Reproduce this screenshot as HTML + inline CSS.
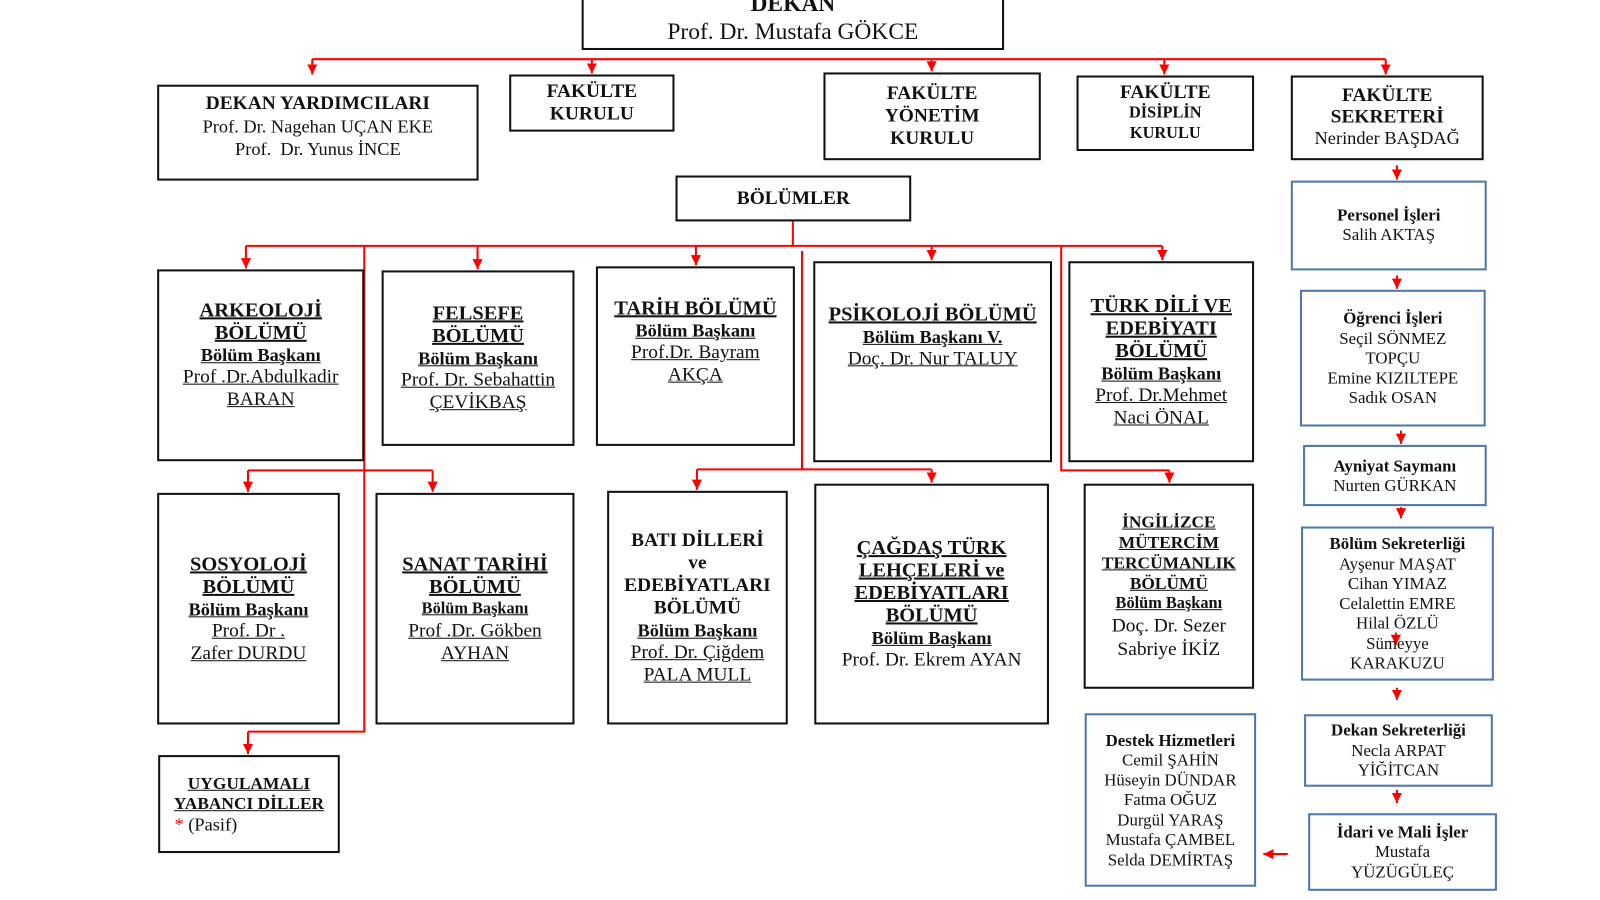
<!DOCTYPE html>
<html><head><meta charset="utf-8"><style>
body{margin:0;width:1600px;height:900px;background:#fff;position:relative;overflow:hidden;font-family:"Liberation Serif",serif;color:#111}
#w{position:absolute;left:0;top:0;width:1568px;height:882px;transform:scale(1.0204);transform-origin:0 0}
.b{position:absolute;box-sizing:border-box;border:2px solid #111;display:flex;flex-direction:column;justify-content:center;align-items:center;text-align:center;line-height:22px;font-size:18px}
.bl{border:2px solid #4f77a8;line-height:19.5px;font-size:16.5px}
.h{font-weight:bold;font-size:19px}
.t{font-weight:bold;font-size:20px;text-decoration:underline}
.s{font-weight:bold;font-size:18px;text-decoration:underline}
.n{text-decoration:underline;font-size:19px}
svg{position:absolute;left:0;top:0}
</style></head><body><div id="w">
<svg width="1568" height="882">
<defs><marker id="a" markerWidth="10" markerHeight="10" refX="10" refY="5" orient="auto" markerUnits="userSpaceOnUse"><path d="M0,0 L10,5 L0,10 z" fill="#f00"/></marker></defs>
<g stroke="#f00" stroke-width="2" fill="none">
<path d="M306,58 H1358"/>
<path d="M306,58 V73" marker-end="url(#a)"/>
<path d="M580,58 V72" marker-end="url(#a)"/>
<path d="M913,58 V70" marker-end="url(#a)"/>
<path d="M1141,58 V73" marker-end="url(#a)"/>
<path d="M1358,58 V73" marker-end="url(#a)"/>
<path d="M777,216 V241 M241,241 H1139"/>
<path d="M241,241 V263" marker-end="url(#a)"/>
<path d="M468,241 V264" marker-end="url(#a)"/>
<path d="M682,241 V260" marker-end="url(#a)"/>
<path d="M913,241 V255" marker-end="url(#a)"/>
<path d="M1139,241 V255" marker-end="url(#a)"/>
<path d="M357,241 V717 H243"/>
<path d="M243,717 V739" marker-end="url(#a)"/>
<path d="M243,461 H424"/>
<path d="M243,461 V482" marker-end="url(#a)"/>
<path d="M424,461 V482" marker-end="url(#a)"/>
<path d="M786,246 V460 M683,460 H913"/>
<path d="M683,460 V480" marker-end="url(#a)"/>
<path d="M913,460 V473" marker-end="url(#a)"/>
<path d="M1040,241 V461 H1146"/>
<path d="M1146,461 V473" marker-end="url(#a)"/>
<path d="M1369,162 V176" marker-end="url(#a)"/>
<path d="M1369,270 V283" marker-end="url(#a)"/>
<path d="M1373,422 V435" marker-end="url(#a)"/>
<path d="M1373,497 V508" marker-end="url(#a)"/>
<path d="M1368,620 V632" marker-end="url(#a)"/>
<path d="M1369,674 V686" marker-end="url(#a)"/>
<path d="M1369,774 V787" marker-end="url(#a)"/>
<path d="M1262,837 H1238" marker-end="url(#a)"/>
</g></svg>

<div class="b" style="left:570px;top:-20px;width:414px;height:69px;font-size:23px;line-height:27px;justify-content:flex-end;padding-bottom:3px"><div style="font-weight:bold">DEKAN</div><div>Prof. Dr. Mustafa GÖKCE</div></div>
<div class="b" style="left:154px;top:83px;width:315px;height:94px;justify-content:flex-start;padding-top:6px"><div class="h">DEKAN YARDIMCILARI</div><div>Prof. Dr. Nagehan UÇAN EKE</div><div>Prof.&nbsp; Dr. Yunus İNCE</div></div>
<div class="b" style="left:499px;top:73px;width:162px;height:56px"><div class="h">FAKÜLTE<br>KURULU</div></div>
<div class="b" style="left:807px;top:71px;width:213px;height:86px"><div class="h">FAKÜLTE<br>YÖNETİM<br>KURULU</div></div>
<div class="b" style="left:1055px;top:74px;width:174px;height:74px;line-height:20px"><div class="h">FAKÜLTE</div><div style="font-weight:bold;font-size:16px">DİSİPLİN<br>KURULU</div></div>
<div class="b" style="left:1265px;top:74px;width:189px;height:83px;line-height:21px;justify-content:flex-start;padding-top:7px"><div class="h">FAKÜLTE<br>SEKRETERİ</div><div>Nerinder BAŞDAĞ</div></div>
<div class="b" style="left:662px;top:172px;width:231px;height:45px"><div class="h">BÖLÜMLER</div></div>

<div class="b" style="left:154px;top:264px;width:203px;height:188px;padding-bottom:20px"><div class="t">ARKEOLOJİ<br>BÖLÜMÜ</div><div class="s">Bölüm Başkanı</div><div class="n">Prof .Dr.Abdulkadir<br>BARAN</div></div>
<div class="b" style="left:374px;top:265px;width:189px;height:172px"><div class="t">FELSEFE<br>BÖLÜMÜ</div><div class="s">Bölüm Başkanı</div><div class="n">Prof. Dr. Sebahattin<br>ÇEVİKBAŞ</div></div>
<div class="b" style="left:584px;top:261px;width:195px;height:176px;padding-bottom:28px"><div class="t">TARİH BÖLÜMÜ</div><div class="s">Bölüm Başkanı</div><div class="n">Prof.Dr. Bayram<br>AKÇA</div></div>
<div class="b" style="left:797px;top:256px;width:234px;height:197px;padding-bottom:50px"><div class="t">PSİKOLOJİ BÖLÜMÜ</div><div class="s">Bölüm Başkanı V.</div><div class="n">Doç. Dr. Nur TALUY</div></div>
<div class="b" style="left:1047px;top:256px;width:182px;height:197px"><div class="t">TÜRK DİLİ VE<br>EDEBİYATI<br>BÖLÜMÜ</div><div class="s">Bölüm Başkanı</div><div class="n">Prof. Dr.Mehmet<br>Naci ÖNAL</div></div>

<div class="b" style="left:154px;top:483px;width:179px;height:227px"><div class="t">SOSYOLOJİ<br>BÖLÜMÜ</div><div class="s">Bölüm Başkanı</div><div class="n">Prof. Dr .<br>Zafer DURDU</div></div>
<div class="b" style="left:368px;top:483px;width:195px;height:227px"><div class="t">SANAT TARİHİ<br>BÖLÜMÜ</div><div class="s" style="font-size:16px">Bölüm Başkanı</div><div class="n">Prof .Dr. Gökben<br>AYHAN</div></div>
<div class="b" style="left:595px;top:481px;width:177px;height:229px"><div class="h">BATI DİLLERİ<br>ve<br>EDEBİYATLARI<br>BÖLÜMÜ</div><div class="s">Bölüm Başkanı</div><div class="n">Prof. Dr. Çiğdem<br>PALA MULL</div></div>
<div class="b" style="left:798px;top:474px;width:230px;height:236px"><div class="t">ÇAĞDAŞ TÜRK<br>LEHÇELERİ ve<br>EDEBİYATLARI<br>BÖLÜMÜ</div><div class="s">Bölüm Başkanı</div><div style="font-size:19px">Prof. Dr. Ekrem AYAN</div></div>
<div class="b" style="left:1062px;top:474px;width:167px;height:201px;line-height:20px"><div class="t" style="font-size:17px">İNGİLİZCE<br>MÜTERCİM<br>TERCÜMANLIK<br>BÖLÜMÜ</div><div class="s" style="font-size:16px">Bölüm Başkanı</div><div style="font-size:19px;line-height:23px">Doç. Dr. Sezer<br>Sabriye İKİZ</div></div>
<div class="b" style="left:155px;top:740px;width:178px;height:96px;line-height:20px"><div class="t" style="font-size:17px">UYGULAMALI<br>YABANCI DİLLER</div><div style="align-self:flex-start;padding-left:14px"><span style="color:#e00">*</span> (Pasif)</div></div>

<div class="b bl" style="left:1265px;top:177px;width:192px;height:88px;padding-bottom:2px"><div style="font-weight:bold">Personel İşleri</div><div>Salih AKTAŞ</div></div>
<div class="b bl" style="left:1274px;top:284px;width:182px;height:134px"><div style="font-weight:bold">Öğrenci İşleri</div><div>Seçil SÖNMEZ<br>TOPÇU<br>Emine KIZILTEPE<br>Sadık OSAN</div></div>
<div class="b bl" style="left:1277px;top:436px;width:180px;height:60px"><div style="font-weight:bold">Ayniyat Saymanı</div><div>Nurten GÜRKAN</div></div>
<div class="b bl" style="left:1275px;top:516px;width:189px;height:151px"><div style="font-weight:bold">Bölüm Sekreterliği</div><div>Ayşenur MAŞAT<br>Cihan YIMAZ<br>Celalettin EMRE<br>Hilal ÖZLÜ<br>Sümeyye<br>KARAKUZU</div></div>
<div class="b bl" style="left:1278px;top:700px;width:185px;height:71px"><div style="font-weight:bold">Dekan Sekreterliği</div><div>Necla ARPAT<br>YİĞİTCAN</div></div>
<div class="b bl" style="left:1282px;top:797px;width:185px;height:76px"><div style="font-weight:bold">İdari ve Mali İşler</div><div>Mustafa<br>YÜZÜGÜLEÇ</div></div>
<div class="b bl" style="left:1063px;top:699px;width:168px;height:170px"><div style="font-weight:bold">Destek Hizmetleri</div><div>Cemil ŞAHİN<br>Hüseyin DÜNDAR<br>Fatma OĞUZ<br>Durgül YARAŞ<br>Mustafa ÇAMBEL<br>Selda DEMİRTAŞ</div></div>
</div></body></html>
